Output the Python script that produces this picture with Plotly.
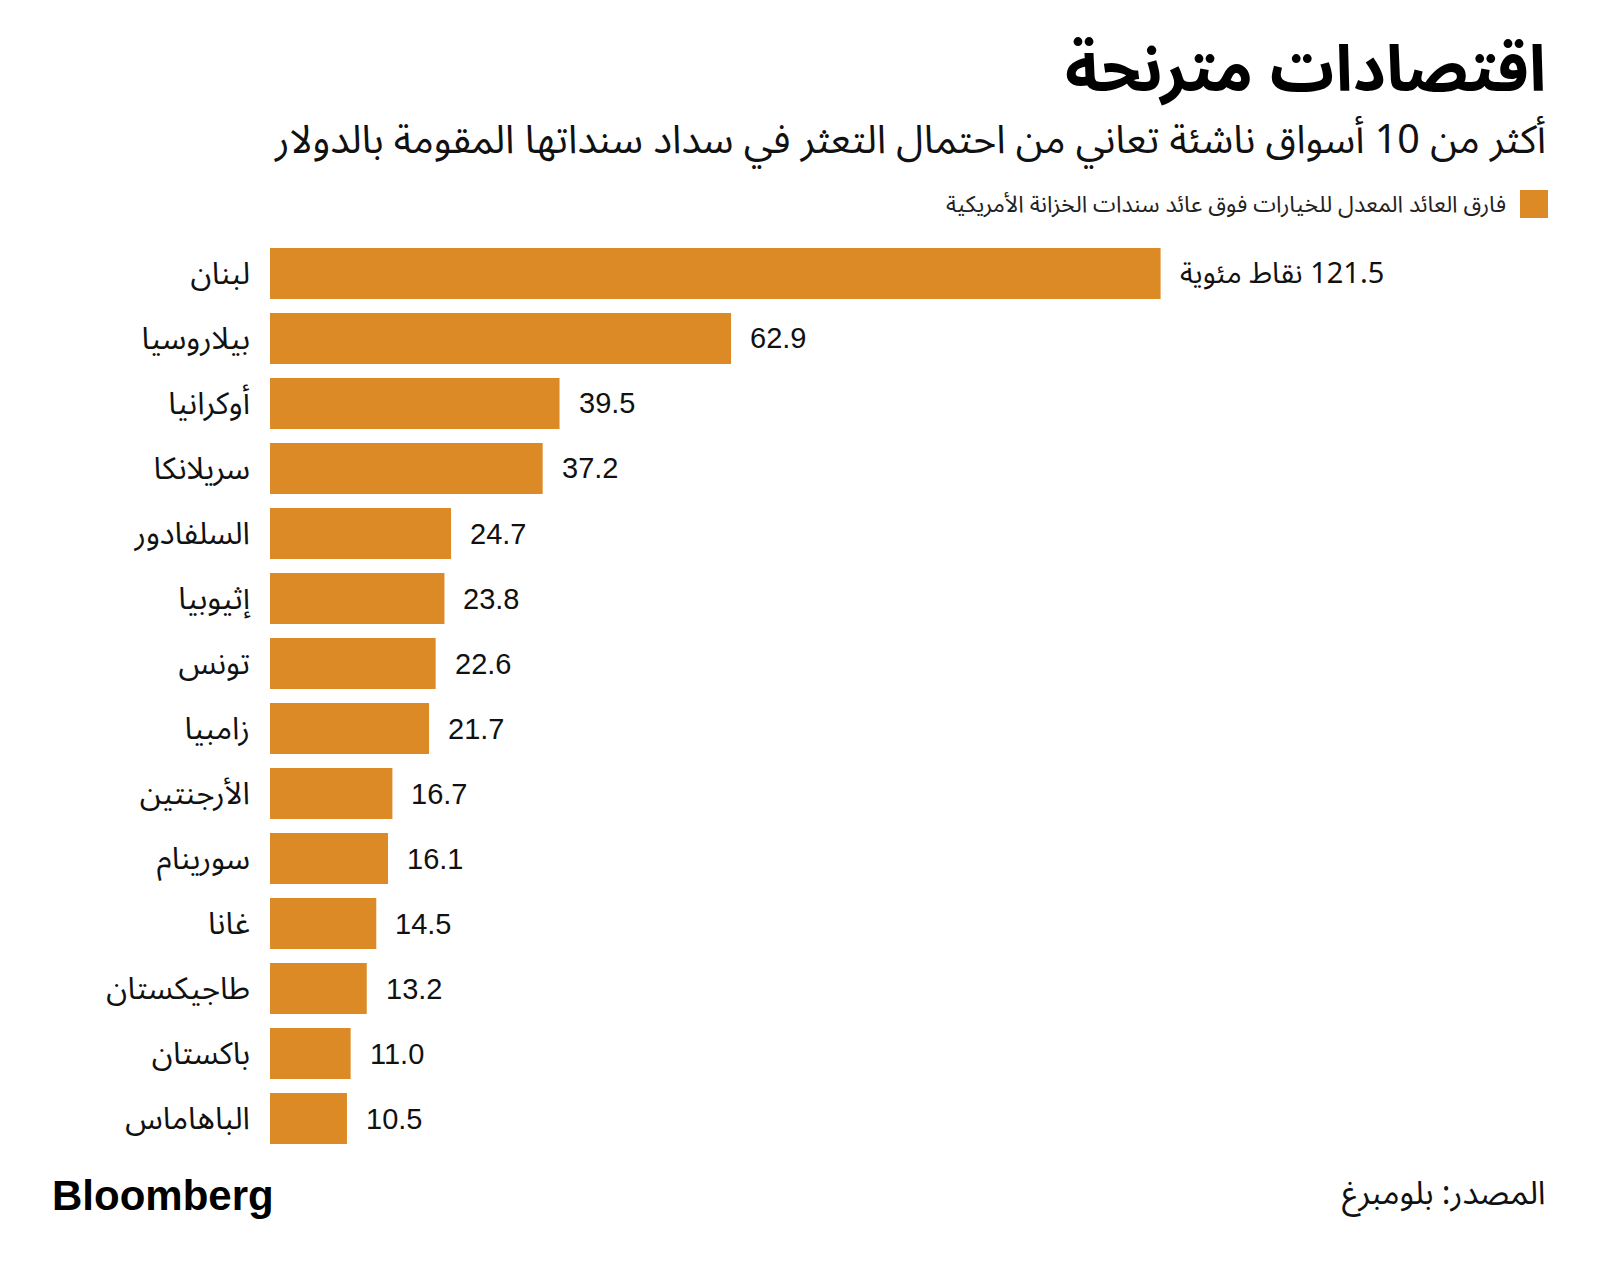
import plotly.graph_objects as go

countries = ["لبنان", "بيلاروسيا", "أوكرانيا", "سريلانكا", "السلفادور", "إثيوبيا", "تونس",
             "زامبيا", "الأرجنتين", "سورينام", "غانا", "طاجيكستان", "باكستان", "الباهاماس"]
values = [121.5, 62.9, 39.5, 37.2, 24.7, 23.8, 22.6, 21.7, 16.7, 16.1, 14.5, 13.2, 11.0, 10.5]
first_suffix = "نقاط مئوية"

title = "اقتصادات مترنحة"
subtitle = "أكثر من 10 أسواق ناشئة تعاني من احتمال التعثر في سداد سنداتها المقومة بالدولار"
legend_text = "فارق العائد المعدل للخيارات فوق عائد سندات الخزانة الأمريكية"
source = "المصدر: بلومبرغ"
brand = "Bloomberg"

# the page body has an 8px margin: draw the figure 16px smaller and offset positions
OFF = 8
W, H = 1600 - 2 * OFF, 1273 - 2 * OFF
BAR = "#DC8A26"
AR_FONT = "Noto Sans Arabic, DejaVu Sans, sans-serif"
NUM_FONT = "Liberation Sans, Arial, sans-serif"

def px_x(p):
    return (p - OFF) / W

def px_y(p):
    return 1 - (p - OFF) / H

plot_left, plot_right = 270, 1560
plot_top, plot_bottom = 241, 1151
xmax = (plot_right - plot_left) / 7.33

fig = go.Figure()
fig.add_trace(go.Bar(
    x=values, y=countries, orientation="h",
    marker=dict(color=BAR, line=dict(width=0)),
    showlegend=False, hoverinfo="skip",
))

labels = []
for i, (c, v) in enumerate(zip(countries, values)):
    t = f"{v:.1f}"
    if i == 0:
        t = "\u202b" + t + " " + first_suffix + "\u202c"
    labels.append(dict(
        x=v, y=c, xref="x", yref="y", text=t, showarrow=False,
        xanchor="left", yanchor="middle", xshift=17,
        font=dict(family=NUM_FONT if i else AR_FONT, size=29, color="#111111"),
    ))

annotations = labels + [
    dict(x=px_x(1548), y=px_y(70), xref="paper", yref="paper", text=f"<b>{title}</b>",
         showarrow=False, xanchor="right", yanchor="middle",
         font=dict(family=AR_FONT, size=64, color="#000000")),
    dict(x=px_x(1548), y=px_y(141), xref="paper", yref="paper", text=subtitle,
         showarrow=False, xanchor="right", yanchor="middle",
         font=dict(family=AR_FONT, size=39.5, color="#111111")),
    dict(x=px_x(1508), y=px_y(204), xref="paper", yref="paper", text=legend_text,
         showarrow=False, xanchor="right", yanchor="middle",
         font=dict(family=AR_FONT, size=23, color="#222222")),
    dict(x=px_x(1548), y=px_y(1193), xref="paper", yref="paper", text=source,
         showarrow=False, xanchor="right", yanchor="middle",
         font=dict(family=AR_FONT, size=32.5, color="#111111")),
    dict(x=px_x(50), y=px_y(1195), xref="paper", yref="paper", text=f"<b>{brand}</b>",
         showarrow=False, xanchor="left", yanchor="middle",
         font=dict(family=NUM_FONT, size=42, color="#000000")),
]

fig.update_layout(
    width=W, height=H,
    margin=dict(l=0, r=0, t=0, b=0),
    paper_bgcolor="white", plot_bgcolor="white",
    bargap=0.215,
    xaxis=dict(domain=[px_x(plot_left), px_x(plot_right)], range=[0, xmax],
               showgrid=False, zeroline=False, showticklabels=False, showline=False,
               automargin=False, fixedrange=True),
    yaxis=dict(domain=[px_y(plot_bottom), px_y(plot_top)],
               categoryorder="array", categoryarray=countries, autorange="reversed",
               showgrid=False, zeroline=False, showline=False, ticks="",
               ticklabelstandoff=19, automargin=False,
               tickfont=dict(family=AR_FONT, size=31, color="#111111")),
    shapes=[dict(type="rect", xref="paper", yref="paper",
                 x0=px_x(1520), x1=px_x(1548), y0=px_y(218), y1=px_y(190),
                 fillcolor=BAR, line=dict(width=0))],
    annotations=annotations,
)

fig.write_html("out.html")
